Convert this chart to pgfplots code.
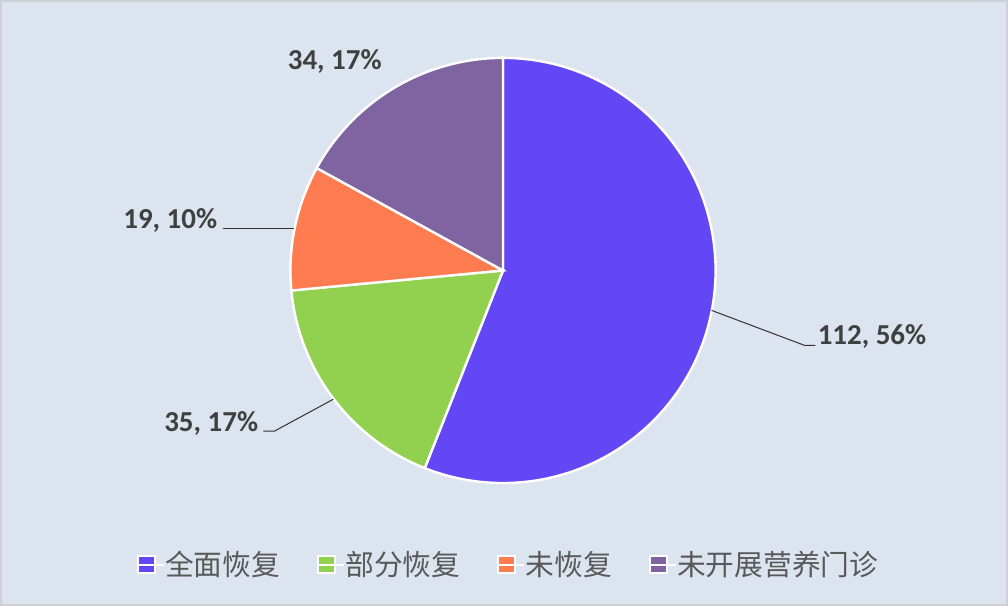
\documentclass[border=0pt]{standalone}
\usepackage{pgfplots}
\pgfplotsset{compat=1.18}
\usepackage{fontspec}
\setmainfont{Carlito}
\newfontfamily\cjk{Noto Sans CJK SC}
\definecolor{bg}{HTML}{DCE4F0}
\definecolor{cA}{HTML}{6347F5}
\definecolor{cB}{HTML}{92D050}
\definecolor{cC}{HTML}{FF7C50}
\definecolor{cD}{HTML}{8064A2}
\definecolor{lbl}{HTML}{404040}
\definecolor{leg}{HTML}{595959}
\newcommand\vA{112}
\newcommand\vB{35}
\newcommand\vC{19}
\newcommand\vD{34}
\pgfmathsetmacro\tot{\vA+\vB+\vC+\vD}
\pgfmathsetmacro\aA{90}
\pgfmathsetmacro\aB{90-360*(\vA/\tot)}
\pgfmathsetmacro\aC{\aB-360*(\vB/\tot)}
\pgfmathsetmacro\aD{\aC-360*(\vC/\tot)}
\pgfmathsetmacro\aE{\aD-360*(\vD/\tot)}
\begin{document}
\begin{tikzpicture}
\begin{axis}[
  scale only axis, width=504pt, height=302.5pt,
  xmin=0, xmax=1008, ymin=0, ymax=605,
  axis lines=none, clip=false,
  legend image code/.code={\fill[#1, draw=white, line width=1pt] (0pt,-4.25pt) rectangle (8.5pt,4.25pt); \path (0pt,0pt) -- (13pt,0pt);},
  legend style={at={(axis cs:507.5,40)}, anchor=center, draw=none, fill=none,
    font=\cjk\fontsize{14.4}{16}\selectfont, text=leg,
    nodes={inner xsep=0pt},
    /tikz/every even column/.append style={column sep=18.5pt}},
  legend columns=-1, legend cell align=left,
]
\fill[bg, draw={rgb,255:red,205;green,208;blue,212}, line width=1pt] (axis cs:0,0) rectangle (axis cs:1008,605);
\addplot[fill=cA, draw=white, line width=1.2pt, domain=\aB:\aA, samples=150] ({503+213*cos(x)},{335+213*sin(x)}) -- (axis cs:503,335) -- cycle;
\addlegendentry{全面恢复}
\addplot[fill=cB, draw=white, line width=1.2pt, domain=\aC:\aB, samples=60] ({503+213*cos(x)},{335+213*sin(x)}) -- (axis cs:503,335) -- cycle;
\addlegendentry{部分恢复}
\addplot[fill=cC, draw=white, line width=1.2pt, domain=\aD:\aC, samples=40] ({503+213*cos(x)},{335+213*sin(x)}) -- (axis cs:503,335) -- cycle;
\addlegendentry{未恢复}
\addplot[fill=cD, draw=white, line width=1.2pt, domain=\aE:\aD, samples=60] ({503+213*cos(x)},{335+213*sin(x)}) -- (axis cs:503,335) -- cycle;
\addlegendentry{未开展营养门诊}
% leader lines
\draw[black!80, line width=0.5pt] (axis cs:712,295) -- (axis cs:805,260) -- (axis cs:816,260);
\draw[black!80, line width=0.5pt] (axis cs:222,377) -- (axis cs:294,377);
\draw[black!80, line width=0.5pt] (axis cs:263,174) -- (axis cs:274,174) -- (axis cs:333,206);
% labels
\node[font=\bfseries\fontsize{14.5}{16}\selectfont, text=lbl, anchor=west, inner sep=0pt] at (axis cs:818,269) {112, 56\%};
\node[font=\bfseries\fontsize{14.5}{16}\selectfont, text=lbl, anchor=east, inner sep=0pt] at (axis cs:217,385) {19, 10\%};
\node[font=\bfseries\fontsize{14.5}{16}\selectfont, text=lbl, anchor=east, inner sep=0pt] at (axis cs:258,182) {35, 17\%};
\node[font=\bfseries\fontsize{14.5}{16}\selectfont, text=lbl, anchor=west, inner sep=0pt] at (axis cs:287,544) {34, 17\%};
\end{axis}
\end{tikzpicture}
\end{document}
